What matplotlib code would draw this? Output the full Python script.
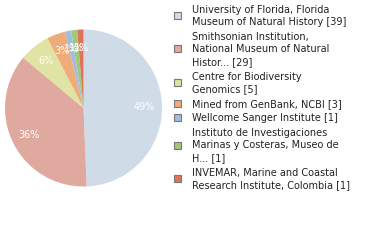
import matplotlib
matplotlib.use("Agg")
import matplotlib.pyplot as plt
from matplotlib.patches import Rectangle

labels = [
    ["University of Florida, Florida", "Museum of Natural History [39]"],
    ["Smithsonian Institution,", "National Museum of Natural", "Histor... [29]"],
    ["Centre for Biodiversity", "Genomics [5]"],
    ["Mined from GenBank, NCBI [3]"],
    ["Wellcome Sanger Institute [1]"],
    ["Instituto de Investigaciones", "Marinas y Costeras, Museo de", "H... [1]"],
    ["INVEMAR, Marine and Coastal", "Research Institute, Colombia [1]"],
]
values = [39, 29, 5, 3, 1, 1, 1]
colors = ["#cfdbe7", "#e0a9a0", "#dfe3a3", "#efab78", "#a0bde0", "#a0c87c", "#df7357"]

W, H = 380, 240
fig = plt.figure(figsize=(W / 100, H / 100), dpi=100)
fig.patch.set_facecolor("white")

# pie axes: center (83.5,108), radius 78.5 px
cx, cy, r = 83.5, 108, 78.5
ax = fig.add_axes([(cx - r) / W, 1 - (cy + r) / H, 2 * r / W, 2 * r / H])
ax.pie(values, colors=colors, startangle=90, counterclock=False,
       autopct="%d%%", pctdistance=0.77, radius=1.0,
       wedgeprops=dict(linewidth=0),
       textprops=dict(color="white", fontsize=7, family="DejaVu Sans"))
ax.set_xlim(-1, 1)
ax.set_ylim(-1, 1)
ax.set_aspect("equal")
ax.axis("off")

# legend
line_h = 12.3
gap = 2.5
top = 6.0
cap = 7.0
for lab, col in zip(labels, colors):
    n = len(lab)
    for i, line in enumerate(lab):
        yb = top + cap + i * line_h
        fig.text(192 / W, 1 - yb / H, line, fontsize=7, color="#222222",
                 family="DejaVu Sans", va="baseline", ha="left")
    mc = top + 3.5 + (n - 1) * line_h / 2
    fig.add_artist(Rectangle((174 / W, 1 - (mc + 3.5) / H), 7 / W, 7 / H,
                             transform=fig.transFigure, facecolor=col,
                             edgecolor="#777777", linewidth=0.8))
    top += n * line_h + gap

fig.savefig("out.png", dpi=100)
